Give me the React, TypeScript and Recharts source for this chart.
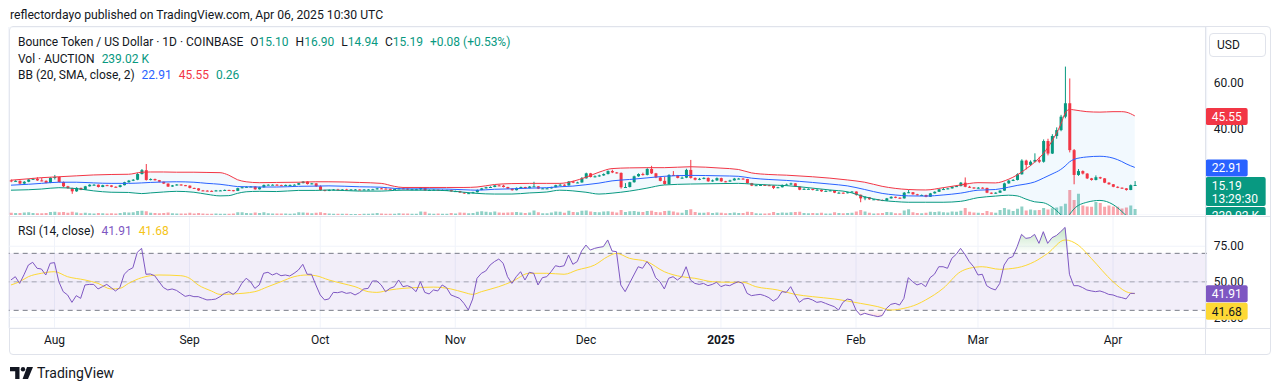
import {
  Area,
  Bar,
  CartesianGrid,
  Cell,
  ComposedChart,
  Line,
  ReferenceArea,
  ReferenceLine,
  XAxis,
  YAxis,
} from 'recharts'

// day 0 = 22 Jul 2024, day 258 = 06 Apr 2025
const firstOpen = 17.2

const closes = [
  16.8, 17.0, 15.8, 16.6, 17.6, 17.9, 17.2, 17.0, 16.1, 18.3,
  18.7, 16.5, 14.6, 13.8, 12.4, 13.9, 13.1, 14.6, 15.3, 15.3,
  14.3, 15.1, 15.0, 14.4, 14.3, 15.1, 16.4, 17.1, 17.5, 20.0,
  21.7, 17.4, 17.8, 17.3, 16.6, 15.8, 14.5, 15.0, 15.4, 15.1,
  14.9, 13.9, 13.7, 12.8, 12.7, 12.6, 12.5, 12.8, 12.8, 13.0,
  12.9, 12.6, 13.8, 14.2, 14.4, 14.5, 13.3, 14.2, 15.2, 15.3,
  15.3, 15.1, 15.0, 15.2, 15.2, 15.3, 16.0, 16.7, 15.6, 15.9,
  14.6, 13.0, 12.6, 13.0, 13.2, 13.1, 13.2, 13.1, 13.2, 13.2,
  13.1, 13.2, 13.2, 13.3, 13.7, 13.6, 13.5, 13.3, 13.4, 13.7,
  13.6, 13.2, 13.3, 13.3, 14.0, 12.8, 13.0, 13.1, 12.9, 13.0,
  13.0, 12.4, 12.5, 11.9, 11.5, 11.6, 12.0, 13.0, 13.7, 14.2,
  14.3, 15.0, 14.9, 14.3, 13.6, 12.9, 13.9, 14.3, 13.8, 14.5,
  14.6, 13.6, 13.7, 13.7, 14.2, 15.1, 15.3, 15.0, 16.7, 16.2,
  16.3, 18.1, 20.3, 18.7, 19.0, 19.4, 20.0, 21.3, 20.7, 20.5,
  14.2, 14.3, 16.4, 19.0, 20.0, 19.6, 22.2, 20.3, 18.5, 17.0,
  15.6, 19.6, 19.5, 18.3, 18.4, 21.8, 18.3, 17.5, 17.9, 18.3,
  16.8, 17.2, 18.2, 16.8, 16.7, 17.2, 18.0, 18.0, 17.8, 16.0,
  14.9, 15.1, 15.2, 15.1, 14.9, 13.9, 14.2, 15.2, 15.4, 15.9,
  14.5, 13.1, 13.5, 13.5, 13.0, 13.1, 12.4, 12.6, 12.8, 11.8,
  11.8, 11.6, 12.0, 12.3, 10.9, 9.3, 9.8, 8.9, 8.9, 8.6,
  8.3, 9.3, 10.0, 9.6, 9.3, 11.8, 12.0, 11.1, 10.8, 10.8,
  10.0, 11.5, 12.2, 13.3, 13.4, 13.7, 14.4, 14.7, 16.2, 14.4,
  14.1, 13.7, 14.0, 13.9, 11.8, 11.5, 11.8, 12.7, 15.9, 17.1,
  17.4, 19.9, 25.9, 24.0, 25.4, 26.2, 25.4, 34.5, 29.0, 36.7,
  39.3, 45.2, 51.1, 30.5, 19.6, 21.3, 20.2, 18.1, 17.4, 18.6,
  18.1, 16.2, 15.5, 14.4, 14.0, 13.7, 13.0, 15.1, 15.19,
]

const highs = [
  17.6, 17.3, 17.2, 16.9, 17.9, 18.3, 18.6, 18.4, 17.2, 18.6,
  19.6, 18.9, 16.7, 14.8, 14.0, 14.2, 14.0, 14.8, 15.5, 15.6,
  15.4, 15.3, 15.3, 15.1, 14.6, 15.3, 16.6, 17.4, 17.8, 20.4,
  22.2, 24.4, 18.1, 18.0, 17.4, 16.7, 15.9, 15.2, 15.6, 15.5,
  15.2, 15.0, 14.0, 13.8, 13.0, 12.9, 12.8, 13.0, 13.0, 13.2,
  13.1, 13.0, 14.0, 14.4, 14.6, 14.7, 14.6, 14.4, 15.4, 15.5,
  15.5, 15.6, 15.3, 15.4, 15.4, 15.5, 16.2, 16.9, 16.8, 16.1,
  16.0, 15.0, 13.1, 13.2, 13.4, 13.5, 13.4, 13.5, 13.4, 13.4,
  13.3, 13.4, 13.4, 13.5, 13.9, 14.0, 13.7, 13.6, 13.6, 14.0,
  13.8, 13.7, 13.5, 13.5, 14.3, 14.2, 13.2, 13.3, 13.2, 13.2,
  13.2, 13.1, 12.7, 12.6, 12.0, 11.8, 12.2, 13.2, 13.9, 14.4,
  14.6, 15.2, 15.3, 15.3, 14.4, 13.7, 14.1, 14.5, 14.4, 14.7,
  16.6, 14.7, 13.9, 13.9, 14.4, 15.3, 15.9, 15.5, 16.9, 17.1,
  16.6, 18.7, 20.6, 20.5, 19.4, 19.7, 20.3, 21.6, 21.9, 20.9,
  20.7, 16.0, 16.6, 19.3, 20.3, 20.6, 22.6, 23.6, 20.5, 18.7,
  18.9, 19.9, 21.3, 19.6, 18.9, 22.3, 26.2, 18.5, 18.3, 18.6,
  18.5, 17.6, 18.5, 18.4, 17.0, 17.5, 18.3, 18.3, 18.2, 17.9,
  16.1, 15.3, 15.4, 15.4, 15.3, 15.0, 14.4, 15.4, 15.8, 16.2,
  16.0, 14.6, 13.8, 13.7, 13.6, 13.4, 13.2, 12.8, 13.0, 12.9,
  12.2, 11.9, 12.2, 12.5, 12.4, 11.0, 10.3, 9.9, 9.1, 9.0,
  8.8, 9.5, 10.2, 10.1, 9.8, 12.1, 13.0, 12.1, 11.3, 11.0,
  10.9, 11.7, 12.4, 13.5, 14.0, 13.9, 14.6, 15.0, 16.5, 18.5,
  14.8, 14.2, 14.3, 14.2, 14.0, 11.9, 12.0, 12.9, 16.2, 17.5,
  17.8, 20.3, 26.5, 26.3, 26.0, 29.1, 27.6, 35.2, 35.5, 37.5,
  40.5, 46.0, 67.2, 62.0, 31.0, 22.2, 21.6, 20.4, 18.3, 19.4,
  18.8, 18.2, 16.4, 15.6, 14.6, 14.1, 13.8, 15.4, 16.9,
]

const lows = [
  16.4, 16.6, 15.5, 15.5, 16.4, 17.4, 17.0, 16.8, 15.9, 16.0,
  17.6, 16.3, 14.3, 13.5, 11.3, 12.2, 12.9, 13.0, 14.5, 15.0,
  14.1, 14.2, 14.8, 14.2, 14.1, 14.1, 15.0, 16.2, 16.9, 17.3,
  19.8, 17.1, 17.2, 17.1, 16.4, 15.6, 14.3, 14.4, 14.9, 14.9,
  14.7, 13.7, 13.5, 12.6, 12.5, 12.4, 12.3, 12.4, 12.6, 12.7,
  12.7, 12.4, 12.5, 13.7, 14.1, 14.3, 13.1, 13.2, 14.0, 15.1,
  15.1, 15.0, 14.8, 14.9, 15.0, 15.1, 15.2, 15.9, 15.4, 15.5,
  14.4, 12.7, 12.4, 12.5, 12.9, 12.9, 13.0, 12.9, 13.0, 13.0,
  12.9, 13.0, 13.0, 13.1, 13.2, 13.4, 13.3, 13.1, 13.2, 13.3,
  13.4, 13.0, 13.1, 13.1, 12.9, 12.6, 12.7, 12.9, 12.7, 12.8,
  12.8, 12.2, 12.2, 11.7, 11.3, 11.3, 11.5, 11.9, 12.9, 13.6,
  14.0, 14.2, 14.7, 14.1, 13.4, 12.7, 12.8, 13.8, 13.6, 13.7,
  14.4, 13.4, 13.5, 13.5, 13.6, 14.1, 15.0, 14.8, 14.9, 16.0,
  16.0, 16.2, 18.0, 18.5, 18.5, 18.8, 19.2, 19.8, 20.4, 20.2,
  13.6, 13.9, 14.1, 16.2, 18.8, 19.3, 19.4, 20.0, 18.2, 16.8,
  15.3, 15.4, 19.2, 18.1, 18.0, 18.2, 18.0, 17.2, 17.3, 17.7,
  16.6, 16.6, 17.0, 16.6, 16.4, 16.6, 17.1, 17.7, 17.6, 15.8,
  14.7, 14.8, 15.0, 14.9, 14.7, 13.4, 13.8, 14.1, 15.0, 15.2,
  14.3, 12.9, 13.0, 13.3, 12.8, 12.9, 12.2, 12.3, 12.5, 11.6,
  11.5, 11.4, 11.5, 11.9, 10.5, 7.6, 8.5, 8.7, 8.7, 8.4,
  8.1, 8.2, 9.2, 9.4, 9.1, 9.2, 11.6, 10.9, 10.6, 10.6,
  9.8, 9.9, 11.4, 12.1, 13.1, 13.3, 13.6, 14.3, 14.6, 14.2,
  13.9, 13.5, 13.6, 13.6, 11.6, 11.2, 11.3, 11.7, 12.6, 15.7,
  16.9, 17.2, 19.7, 22.0, 23.5, 25.0, 24.8, 25.0, 28.2, 28.8,
  35.5, 38.8, 44.5, 29.5, 15.5, 19.2, 19.8, 17.8, 17.1, 17.2,
  17.8, 16.0, 15.3, 14.2, 13.8, 13.5, 12.7, 12.9, 14.94,
]

// volume, thousands
const volumes = [
  90, 80, 85, 100, 110, 80, 75, 70, 80, 120,
  130, 110, 120, 90, 130, 100, 70, 90, 70, 60,
  80, 70, 60, 70, 60, 80, 110, 100, 110, 160,
  170, 150, 90, 80, 70, 80, 100, 70, 60, 60,
  60, 90, 60, 80, 60, 50, 50, 60, 50, 50,
  50, 60, 110, 110, 80, 70, 100, 80, 110, 70,
  60, 60, 60, 60, 50, 60, 110, 100, 90, 70,
  90, 110, 80, 60, 50, 50, 50, 50, 40, 40,
  40, 50, 50, 60, 80, 60, 50, 50, 50, 70,
  60, 60, 50, 50, 140, 130, 60, 50, 60, 50,
  50, 80, 60, 100, 90, 70, 80, 130, 150, 130,
  110, 140, 100, 90, 100, 110, 120, 100, 80, 100,
  180, 110, 70, 70, 100, 140, 130, 90, 170, 120,
  110, 170, 180, 140, 120, 110, 140, 150, 130, 100,
  200, 120, 150, 160, 130, 120, 160, 170, 120, 110,
  160, 170, 140, 100, 90, 200, 230, 120, 90, 90,
  110, 80, 100, 90, 70, 80, 100, 80, 80, 130,
  120, 70, 60, 60, 70, 120, 80, 100, 90, 110,
  120, 130, 80, 70, 80, 70, 90, 60, 60, 110,
  80, 70, 80, 90, 140, 200, 140, 90, 60, 70,
  80, 120, 110, 70, 70, 180, 230, 110, 80, 70,
  90, 130, 120, 140, 110, 100, 140, 130, 170, 280,
  130, 100, 90, 80, 160, 110, 90, 200, 280, 220,
  160, 250, 340, 180, 220, 190, 200, 280, 220, 270,
  300, 350, 450, 1000, 600, 850, 380, 340, 330, 520,
  480, 330, 380, 340, 330, 260, 300, 380, 239,
]

const rsi = [
  51.3, 53.6, 48.9, 55.0, 61.8, 63.7, 59.5, 59.0, 54.8, 63.0,
  63.5, 50.1, 43.1, 40.8, 35.6, 40.3, 38.4, 47.8, 48.2, 48.2,
  45.0, 46.6, 48.2, 45.9, 43.6, 45.9, 55.3, 58.3, 59.9, 70.7,
  73.5, 55.3, 55.5, 54.3, 50.1, 46.0, 44.3, 45.0, 44.0, 41.9,
  39.8, 40.5, 39.6, 39.6, 38.4, 37.3, 37.5, 37.9, 39.6, 41.9,
  43.1, 41.2, 43.6, 48.9, 52.5, 50.1, 45.4, 47.8, 56.0, 56.7,
  54.8, 56.0, 54.3, 54.8, 54.1, 56.0, 58.3, 62.3, 55.3, 55.3,
  47.8, 40.8, 37.3, 38.0, 42.6, 42.4, 43.1, 41.9, 42.4, 40.8,
  42.4, 45.0, 45.4, 50.6, 50.6, 47.8, 43.1, 45.4, 46.6, 51.3,
  46.6, 47.3, 46.0, 43.1, 50.1, 42.6, 41.5, 44.3, 43.6, 47.8,
  45.9, 40.8, 39.6, 38.4, 34.9, 30.2, 37.9, 52.5, 56.0, 57.6,
  61.8, 64.2, 66.0, 63.0, 53.6, 48.9, 53.6, 57.1, 51.3, 56.7,
  56.0, 47.8, 52.9, 53.6, 57.1, 61.3, 60.6, 61.3, 68.8, 62.3,
  64.2, 71.6, 75.8, 72.3, 73.5, 74.2, 74.7, 79.4, 71.6, 71.2,
  47.8, 43.1, 48.9, 54.8, 60.6, 59.5, 64.2, 60.6, 52.9, 50.1,
  45.0, 52.5, 53.6, 51.3, 53.6, 60.6, 51.3, 48.9, 48.2, 48.9,
  47.3, 48.2, 49.7, 46.6, 47.8, 47.3, 48.9, 50.1, 48.9, 41.9,
  40.3, 40.8, 41.2, 40.3, 38.9, 36.5, 38.4, 43.1, 42.6, 46.6,
  40.8, 35.6, 37.9, 38.4, 37.3, 35.6, 36.1, 34.9, 33.7, 32.6,
  30.2, 35.6, 37.9, 37.3, 30.2, 26.7, 27.9, 27.0, 26.3, 25.6,
  26.3, 31.4, 34.2, 34.9, 33.7, 38.4, 52.9, 50.1, 47.8, 48.9,
  46.6, 52.9, 55.3, 60.6, 60.6, 59.5, 66.5, 69.3, 73.5, 69.3,
  64.2, 60.6, 54.8, 55.3, 47.3, 45.4, 44.3, 48.9, 61.8, 66.5,
  67.7, 74.7, 83.3, 80.5, 81.0, 83.3, 77.0, 85.2, 77.0, 81.0,
  82.5, 85.2, 88.2, 55.3, 47.3, 47.3, 46.0, 44.3, 43.6, 43.1,
  43.6, 42.6, 41.2, 40.8, 39.6, 38.9, 38.0, 41.9, 41.91,
]

const rsiMaDays = [
  0, 2, 4, 7, 10, 13, 17, 20, 23, 25, 27, 30, 32, 34, 39, 41, 43, 46, 48, 51,
  56, 59, 62, 65, 68, 70, 73, 76, 79, 82, 84, 87, 90, 94, 97, 101, 104, 106, 108, 112,
  115, 119, 123, 127, 130, 134, 137, 139, 142, 146, 150, 154, 157, 161, 165, 168, 171, 176, 180, 184,
  189, 195, 199, 202, 205, 208, 210, 214, 218, 220, 223, 227, 231, 235, 238, 242, 245, 248, 253, 256,
  258,
]
const rsiMa = [
  47.8, 50.1, 53.6, 56.0, 57.1, 53.6, 51.3, 48.9, 45.0, 45.4, 48.9, 52.9, 54.3, 54.8, 54.3, 52.5, 47.8, 43.6, 41.2, 41.5,
  43.1, 46.6, 50.1, 53.6, 54.8, 54.3, 51.3, 48.9, 46.6, 43.1, 42.6, 44.3, 45.4, 46.1, 46.3, 45.0, 42.6, 41.2, 43.1, 46.6,
  50.1, 56.0, 56.0, 55.3, 58.3, 61.8, 67.7, 70.0, 66.5, 64.2, 57.1, 53.6, 52.5, 50.1, 49.7, 49.7, 46.6, 44.3, 41.2, 39.6,
  38.0, 34.9, 32.6, 30.2, 31.4, 34.2, 37.3, 45.4, 57.1, 59.5, 60.6, 58.8, 59.9, 64.2, 70.0, 79.4, 75.8, 66.5, 50.1, 43.1,
  41.68,
]

const bbDays = [
  0, 4, 7, 11, 15, 19, 23, 27, 30, 32, 35, 38, 42, 45, 48, 50, 52, 54, 57, 61,
  66, 70, 73, 80, 85, 88, 90, 96, 100, 104, 107, 111, 115, 119, 123, 126, 129, 132, 135, 138,
  142, 146, 150, 156, 163, 167, 170, 174, 178, 184, 188, 192, 196, 200, 203, 206, 210, 214, 218, 222,
  226, 229, 231, 233, 235, 237, 239, 241, 242, 243, 244, 247, 250, 253, 255, 256, 258,
]
const bbUpper = [
  17.3, 17.9, 18.4, 18.8, 19.2, 19.6, 19.8, 19.9, 20.8, 20.9, 20.9, 20.8, 20.8, 20.7, 20.6, 19.5, 17.5, 16.6, 16.2, 16.3,
  16.4, 16.6, 16.6, 16.3, 15.9, 14.6, 14.1, 14.1, 14.1, 14.1, 14.3, 15.4, 15.8, 15.9, 15.9, 15.9, 16.8, 18.6, 20.8, 22.4,
  22.7, 22.8, 22.8, 23.2, 22.6, 22.0, 20.5, 19.8, 19.5, 18.8, 18.2, 17.4, 16.4, 14.6, 13.7, 13.2, 13.0, 14.0, 15.2, 16.2,
  16.1, 17.7, 19.6, 22.2, 25.2, 29.0, 34.5, 41.8, 46.7, 48.4, 48.2, 47.4, 47.2, 47.4, 47.4, 47.2, 45.55,
]
const bbBasis = [
  15.1, 15.5, 15.9, 16.4, 16.4, 16.1, 15.9, 15.9, 16.1, 16.3, 16.5, 16.6, 16.4, 15.9, 15.5, 15.0, 14.5, 14.4, 14.3, 14.3,
  14.6, 14.7, 14.8, 14.4, 14.2, 13.7, 13.5, 13.5, 13.4, 13.1, 12.9, 13.3, 13.5, 13.8, 14.0, 14.4, 14.7, 15.3, 16.0, 17.0,
  17.6, 18.3, 19.0, 19.4, 19.2, 19.0, 18.2, 17.6, 17.2, 16.3, 15.6, 14.8, 13.2, 11.5, 10.8, 10.4, 10.3, 10.8, 11.6, 12.9,
  13.2, 14.2, 15.0, 15.6, 16.5, 18.2, 20.0, 22.0, 23.5, 25.3, 26.4, 27.5, 27.8, 27.0, 25.5, 24.5, 22.91,
]
const bbLower = [
  12.9, 13.1, 13.4, 14.0, 13.6, 12.6, 12.0, 11.9, 11.4, 11.7, 12.1, 12.4, 12.0, 11.1, 10.4, 10.5, 11.5, 12.2, 12.4, 12.3,
  12.8, 12.8, 13.0, 12.5, 12.5, 12.8, 12.9, 12.9, 12.7, 12.0, 11.5, 11.2, 11.2, 11.7, 12.1, 12.9, 12.6, 12.0, 11.2, 11.6,
  12.5, 13.8, 15.2, 15.6, 15.8, 15.9, 15.6, 15.2, 14.9, 13.8, 13.0, 12.2, 10.0, 8.4, 7.9, 7.6, 7.6, 7.6, 8.0, 9.6,
  10.3, 10.7, 10.4, 9.0, 7.8, 7.4, 5.5, 2.2, 0.3, 2.2, 4.6, 7.6, 8.4, 6.6, 3.6, 1.8, 0.26,
]

const monthDays = [10, 41, 71, 102, 132, 163, 194, 222, 253]
const monthLabels = ['Aug', 'Sep', 'Oct', 'Nov', 'Dec', '2025', 'Feb', 'Mar', 'Apr']
const priceGridTicks = [20, 40, 60]
const priceLabelTicks = [40, 60] // 20.00 sits under the 22.91 badge
const rsiTicks = [25, 50, 75]

const UP = '#089981'
const DOWN = '#F23645'
const BLUE = '#2962FF'
const PURPLE = '#7E57C2'
const YELLOW = '#FDD835'
const TEXT = '#131722'
const GRID = '#f0f3fa'
const BORDER = '#e0e3eb'
const FONT = 'Roboto, "Noto Sans", Arial, sans-serif'

const X_DOMAIN: [number, number] = [-0.5, 274.5]
const PRICE_DOMAIN: [number, number] = [2, 84.6]
const RSI_DOMAIN: [number, number] = [17.6, 96.2]
const MARGIN = { top: 0, right: 0, bottom: 0, left: 8.76 }
const AXIS_W = 74.34

const candleRows = closes.map((c, i) => ({
  d: i,
  o: i === 0 ? firstOpen : closes[i - 1],
  h: highs[i],
  l: lows[i],
  c,
  v: volumes[i],
}))

const bbRows = bbDays.map((d, i) => ({
  d,
  up: bbUpper[i],
  mid: bbBasis[i],
  low: bbLower[i],
  band: [bbLower[i], bbUpper[i]],
}))

const rsiRows = rsi.map((v, i) => ({
  d: i,
  rsi: v,
  ob: [70, Math.max(70, v)],
  os: [Math.min(30, v), 30],
}))

const maRows = rsiMaDays.map((d, i) => ({ d, ma: rsiMa[i] }))

function Candle(props: any) {
  const { x, y, width, height, payload } = props
  if (!payload || height == null) return null
  const mid = x + width / 2
  const top = Math.min(y, y + height)
  const bot = Math.max(y, y + height)
  const k = (bot - top) / (payload.h - payload.l)
  const yo = top + (payload.h - payload.o) * k
  const yc = top + (payload.h - payload.c) * k
  const color = payload.c >= payload.o ? UP : DOWN
  return (
    <g>
      <line x1={mid} x2={mid} y1={top} y2={bot} stroke={color} strokeWidth={1} />
      <rect x={mid - 1.5} y={Math.min(yo, yc)} width={3} height={Math.max(1, Math.abs(yc - yo))} fill={color} />
    </g>
  )
}

function Badge(props: any) {
  const { viewBox, text, sub, extra, bg, fg = '#fff', shift = 0, w = 42 } = props
  if (!viewBox) return null
  const x = viewBox.x + viewBox.width - 1
  const y = viewBox.y + shift
  return (
    <g>
      <rect x={x} y={y - 8} width={w} height={sub ? 29 : 17} fill={bg} rx={2} />
      <text x={x + 6} y={y + 1} fill={fg} fontSize={12} dominantBaseline="central">{text}</text>
      {sub && (
        <text x={x + 6} y={y + 14} fill={fg} fontSize={12} dominantBaseline="central">{sub}</text>
      )}
      {extra && (
        <g>
          <rect x={x} y={y + 22} width={w} height={17} fill={bg} rx={2} />
          <text x={x + 6} y={y + 31} fill={fg} fontSize={12} dominantBaseline="central">{extra}</text>
        </g>
      )}
    </g>
  )
}

function MonthTick(props: any) {
  const { x, y, payload } = props
  const label = monthLabels[monthDays.indexOf(payload.value)]
  return (
    <text x={x} y={y + 12} textAnchor="middle" dominantBaseline="central" fontSize={12} fill={TEXT}
      fontWeight={label === '2025' ? 700 : 400}>
      {label}
    </text>
  )
}

function PriceBackground() {
  return (
    <ComposedChart width={1281} height={188} data={candleRows} margin={MARGIN}>
      <CartesianGrid stroke={GRID} />
      <XAxis dataKey="d" type="number" domain={X_DOMAIN} ticks={monthDays} height={0} tick={false} axisLine={false} tickLine={false} allowDataOverflow />
      <YAxis orientation="right" width={AXIS_W} domain={PRICE_DOMAIN} ticks={priceGridTicks} tick={false} axisLine={false} tickLine={false} allowDataOverflow />
      <YAxis yAxisId="vol" hide domain={[0, 7520]} />
      <Bar yAxisId="vol" dataKey="v" barSize={3} isAnimationActive={false}>
        {candleRows.map((r) => (
          <Cell key={r.d} fill={r.c >= r.o ? 'rgba(8,153,129,0.45)' : 'rgba(242,54,69,0.45)'} />
        ))}
      </Bar>
    </ComposedChart>
  )
}

function PriceChart() {
  return (
    <ComposedChart width={1281} height={188} data={candleRows} margin={MARGIN}>
      <XAxis dataKey="d" type="number" domain={X_DOMAIN} ticks={monthDays} height={0} tick={false} axisLine={false} tickLine={false} allowDataOverflow />
      <YAxis
        orientation="right"
        width={AXIS_W}
        domain={PRICE_DOMAIN}
        ticks={priceLabelTicks}
        tick={{ fontSize: 12, fill: TEXT }}
        tickFormatter={(v) => Number(v).toFixed(2)}
        tickMargin={1}
        axisLine={false}
        tickLine={false}
        allowDataOverflow
      />
      <Area data={bbRows} dataKey="band" type="monotone" stroke="none" fill="#2196F3" fillOpacity={0.06} isAnimationActive={false} />
      <Line data={bbRows} dataKey="up" type="monotone" stroke={DOWN} strokeWidth={1} dot={false} isAnimationActive={false} />
      <Line data={bbRows} dataKey="mid" type="monotone" stroke={BLUE} strokeWidth={1} dot={false} isAnimationActive={false} />
      <Line data={bbRows} dataKey="low" type="monotone" stroke={UP} strokeWidth={1} dot={false} isAnimationActive={false} />
      <Bar dataKey={(r: any) => [r.l, r.h]} barSize={3} shape={<Candle />} isAnimationActive={false} />
    </ComposedChart>
  )
}

// price-scale badges, drawn above the axis labels
function PriceBadges() {
  const last = candleRows[candleRows.length - 1]
  return (
    <ComposedChart width={1281} height={188} data={candleRows} margin={MARGIN}>
      <XAxis dataKey="d" type="number" domain={X_DOMAIN} height={0} tick={false} axisLine={false} tickLine={false} allowDataOverflow />
      <YAxis orientation="right" width={AXIS_W} domain={PRICE_DOMAIN} tick={false} axisLine={false} tickLine={false} allowDataOverflow />
      <ReferenceLine y={bbUpper[bbUpper.length - 1]} stroke="none"
        label={<Badge text={bbUpper[bbUpper.length - 1].toFixed(2)} bg={DOWN} />} />
      <ReferenceLine y={bbBasis[bbBasis.length - 1]} stroke="none"
        label={<Badge text={bbBasis[bbBasis.length - 1].toFixed(2)} bg={BLUE} />} />
      <ReferenceLine y={last.c} stroke="none"
        label={<Badge text={last.c.toFixed(2)} sub="13:29:30" extra="239.02 K" bg={UP} w={60} />} />
    </ComposedChart>
  )
}

function RsiChart() {
  return (
    <ComposedChart width={1281} height={139} data={rsiRows} margin={MARGIN}>
      <defs>
        <linearGradient id="obFill" x1="0" y1="0" x2="0" y2="1">
          <stop offset="0%" stopColor="#4CAF50" stopOpacity={0.55} />
          <stop offset="100%" stopColor="#4CAF50" stopOpacity={0} />
        </linearGradient>
        <linearGradient id="osFill" x1="0" y1="1" x2="0" y2="0">
          <stop offset="0%" stopColor={DOWN} stopOpacity={0.3} />
          <stop offset="100%" stopColor={DOWN} stopOpacity={0} />
        </linearGradient>
      </defs>
      <CartesianGrid stroke={GRID} />
      <XAxis dataKey="d" type="number" domain={X_DOMAIN} ticks={monthDays} interval={0} height={27}
        axisLine={false} tickLine={false} tickSize={0} tickMargin={0} tick={<MonthTick />} allowDataOverflow />
      <YAxis orientation="right" width={AXIS_W} domain={RSI_DOMAIN} ticks={rsiTicks}
        tick={{ fontSize: 12, fill: TEXT }} tickFormatter={(v) => Number(v).toFixed(2)} tickMargin={1}
        axisLine={false} tickLine={false} allowDataOverflow />
      <ReferenceArea y1={30} y2={70} fill={PURPLE} fillOpacity={0.1} stroke="none" />
      <ReferenceLine y={70} stroke="#787B86" strokeDasharray="5 4" />
      <ReferenceLine y={50} stroke="#787B86" strokeOpacity={0.6} strokeDasharray="5 4" />
      <ReferenceLine y={30} stroke="#787B86" strokeDasharray="5 4" />
      <Area dataKey="ob" type="linear" stroke="none" fill="url(#obFill)" isAnimationActive={false} />
      <Area dataKey="os" type="linear" stroke="none" fill="url(#osFill)" isAnimationActive={false} />
      <Line data={maRows} dataKey="ma" type="monotone" stroke={YELLOW} strokeWidth={1} dot={false} isAnimationActive={false} />
      <Line dataKey="rsi" type="linear" stroke={PURPLE} strokeWidth={1} dot={false} isAnimationActive={false} />
    </ComposedChart>
  )
}

function RsiBadges() {
  return (
    <ComposedChart width={1281} height={139} data={rsiRows} margin={MARGIN}>
      <XAxis dataKey="d" type="number" domain={X_DOMAIN} height={27} tick={false} axisLine={false} tickLine={false} allowDataOverflow />
      <YAxis orientation="right" width={AXIS_W} domain={RSI_DOMAIN} tick={false} axisLine={false} tickLine={false} allowDataOverflow />
      <ReferenceLine y={rsi[rsi.length - 1]} stroke="none"
        label={<Badge text={rsi[rsi.length - 1].toFixed(2)} bg={PURPLE} />} />
      <ReferenceLine y={rsiMa[rsiMa.length - 1]} stroke="none"
        label={<Badge text={rsiMa[rsiMa.length - 1].toFixed(2)} bg={YELLOW} fg={TEXT} shift={17} />} />
    </ComposedChart>
  )
}

function TvLogo() {
  return (
    <svg width="23" height="12" viewBox="0 0 23 12">
      <path d="M0 0h9.5v12h-4.3V4.3H0z" fill={TEXT} />
      <circle cx="13" cy="2.2" r="2.2" fill={TEXT} />
      <path d="M17 0h6l-5 12h-5.4z" fill={TEXT} />
    </svg>
  )
}

const legendLine = { position: 'absolute' as const, left: 18, fontSize: 12, lineHeight: '16px', whiteSpace: 'nowrap' as const }

export default function App() {
  return (
    <div style={{ position: 'fixed', left: 0, top: 0, width: 1281, height: 391, background: '#fff', overflow: 'hidden', fontFamily: FONT, color: TEXT }}>
      <div style={{ position: 'absolute', left: 10, top: 7, fontSize: 12.2, lineHeight: '16px', whiteSpace: 'nowrap' }}>
        reflectordayo published on TradingView.com, Apr 06, 2025 10:30 UTC
      </div>
      <div style={{ position: 'absolute', left: 9, top: 26, width: 1262, height: 329, border: `1px solid ${BORDER}`, borderRadius: 4, boxSizing: 'border-box' }} />
      <div style={{ position: 'absolute', left: 0, top: 27 }}><PriceBackground /></div>
      <div style={{ position: 'absolute', left: 0, top: 27 }}><PriceChart /></div>
      <div style={{ position: 'absolute', left: 0, top: 27 }}><PriceBadges /></div>
      <div style={{ position: 'absolute', left: 0, top: 216 }}><RsiChart /></div>
      <div style={{ position: 'absolute', left: 0, top: 216 }}><RsiBadges /></div>

      <div style={{ position: 'absolute', left: 9, top: 216, width: 1262, height: 1, background: BORDER }} />
      <div style={{ position: 'absolute', left: 9, top: 328, width: 1262, height: 1, background: BORDER }} />
      <div style={{ position: 'absolute', left: 1205, top: 27, width: 1, height: 328, background: BORDER }} />

      <div style={{ ...legendLine, top: 34 }}>
        Bounce Token / US Dollar · 1D · COINBASE
        <span style={{ marginLeft: 7 }}>O<span style={{ color: UP }}>15.10</span></span>
        <span style={{ marginLeft: 7 }}>H<span style={{ color: UP }}>16.90</span></span>
        <span style={{ marginLeft: 7 }}>L<span style={{ color: UP }}>14.94</span></span>
        <span style={{ marginLeft: 7 }}>C<span style={{ color: UP }}>15.19</span></span>
        <span style={{ marginLeft: 7, color: UP }}>+0.08 (+0.53%)</span>
      </div>
      <div style={{ ...legendLine, top: 51 }}>
        Vol · AUCTION<span style={{ marginLeft: 7, color: UP }}>239.02 K</span>
      </div>
      <div style={{ ...legendLine, top: 67 }}>
        BB (20, SMA, close, 2)
        <span style={{ marginLeft: 7, color: BLUE }}>22.91</span>
        <span style={{ marginLeft: 7, color: DOWN }}>45.55</span>
        <span style={{ marginLeft: 7, color: UP }}>0.26</span>
      </div>
      <div style={{ ...legendLine, top: 223 }}>
        RSI (14, close)
        <span style={{ marginLeft: 7, color: PURPLE }}>41.91</span>
        <span style={{ marginLeft: 7, color: '#F5C518' }}>41.68</span>
      </div>

      <div style={{ position: 'absolute', left: 1209, top: 33, width: 57, height: 24, border: `1px solid ${BORDER}`, borderRadius: 4, boxSizing: 'border-box', fontSize: 12, lineHeight: '22px', paddingLeft: 7 }}>
        USD
      </div>

      <div style={{ position: 'absolute', left: 10, top: 366, display: 'flex', alignItems: 'center' }}>
        <TvLogo />
        <span style={{ marginLeft: 4, fontSize: 14, lineHeight: '14px' }}>TradingView</span>
      </div>
    </div>
  )
}
